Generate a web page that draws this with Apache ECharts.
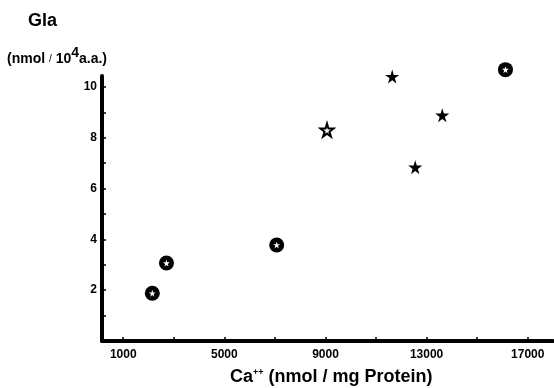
<!DOCTYPE html>
<html>
<head>
<meta charset="utf-8">
<script src="https://cdn.jsdelivr.net/npm/echarts@6/dist/echarts.min.js"></script>
<style>
  html, body { margin: 0; padding: 0; background: #fff; }
  #chartBox { width: 554px; height: 388px; }
</style>
</head>
<body>
<div id="chartBox"></div>
<script>
// Ca++ (nmol/mg protein) vs Gla (nmol/10^4 a.a.)
const circleStarPoints = [[2150, 1.88], [2710, 3.07], [7070, 3.78], [16120, 10.68]];
const filledStarPoints = [[11640, 10.41], [13620, 8.89], [12550, 6.84]];
const openStarPoints = [[9060, 8.30]];
const xLabelValues = [1000, 5000, 9000, 13000, 17000];
const xTickValues = [1000, 3000, 5000, 7000, 9000, 11000, 13000, 15000, 17000];
const yLabelValues = [2, 4, 6, 8, 10];
const yTickValues = [1, 2, 3, 4, 5, 6, 7, 8, 9, 10];

const starPath = 'path://M50,0 L61,35 L98,35 L68,57 L79,91 L50,70 L21,91 L32,57 L2,35 L39,35 Z';
const font = 'Liberation Sans';

const chart = echarts.init(document.getElementById('chartBox'));

const option = {
  animation: false,
  backgroundColor: '#fff',
  textStyle: { fontFamily: font },
  title: [
    {
      text: 'Gla',
      left: 28,
      top: 12,
      padding: 0,
      textStyle: { fontSize: 18, fontWeight: 'bold', color: '#000', fontFamily: font }
    },
    {
      text: '(nmol {s|/} 10{sup|4}a.a.)',
      left: 7,
      top: 46,
      padding: 0,
      textStyle: {
        fontSize: 14, fontWeight: 'bold', color: '#000', fontFamily: font,
        rich: {
          s: { fontSize: 10, fontWeight: 'normal', color: '#000' },
          sup: { fontSize: 14, fontWeight: 'bold', color: '#000', padding: [0, 0, 12, 0] }
        }
      }
    },
    {
      text: 'Ca{sup|++} (nmol / mg Protein)',
      left: 230,
      top: 368,
      padding: 0,
      textStyle: {
        fontSize: 18, fontWeight: 'bold', color: '#000', fontFamily: font,
        rich: {
          sup: { fontSize: 9, fontWeight: 'bold', color: '#000', padding: [0, 0, 9, 0] }
        }
      }
    }
  ],
  grid: { left: 102, right: 1, top: 76, bottom: 47, containLabel: false },
  xAxis: {
    type: 'value',
    min: 160,
    max: 18000,
    splitLine: { show: false },
    axisLine: { show: true, onZero: false, lineStyle: { color: '#000', width: 4 } },
    axisTick: {
      show: true, inside: true, length: 4, customValues: xTickValues,
      lineStyle: { color: '#000', width: 1.5 }
    },
    axisLabel: {
      customValues: xLabelValues, margin: 8,
      formatter: v => String(v),
      color: '#000', fontSize: 12, fontWeight: 'bold', fontFamily: font
    }
  },
  yAxis: {
    type: 'value',
    min: 0,
    max: 10.43,
    splitLine: { show: false },
    axisLine: { show: true, onZero: false, lineStyle: { color: '#000', width: 4 } },
    axisTick: {
      show: true, inside: true, length: 4, customValues: yTickValues,
      lineStyle: { color: '#000', width: 1.5 }
    },
    axisLabel: {
      customValues: yLabelValues, margin: 5,
      formatter: v => String(v),
      color: '#000', fontSize: 12, fontWeight: 'bold', fontFamily: font
    }
  },
  series: [
    {
      type: 'scatter',
      clip: false,
      data: circleStarPoints,
      symbol: 'circle',
      symbolSize: 15,
      itemStyle: { color: '#000', opacity: 1 }
    },
    {
      type: 'scatter',
      clip: false,
      data: circleStarPoints,
      symbol: starPath,
      symbolSize: 7,
      itemStyle: { color: '#fff', opacity: 1 },
      z: 3
    },
    {
      type: 'scatter',
      clip: false,
      data: filledStarPoints,
      symbol: starPath,
      symbolSize: 14,
      itemStyle: { color: '#000', opacity: 1 }
    },
    {
      type: 'scatter',
      clip: false,
      data: openStarPoints,
      symbol: starPath,
      symbolSize: 13,
      itemStyle: { color: '#fff', borderColor: '#000', borderWidth: 2, opacity: 1 }
    }
  ]
};

chart.setOption(option);
</script>
</body>
</html>
